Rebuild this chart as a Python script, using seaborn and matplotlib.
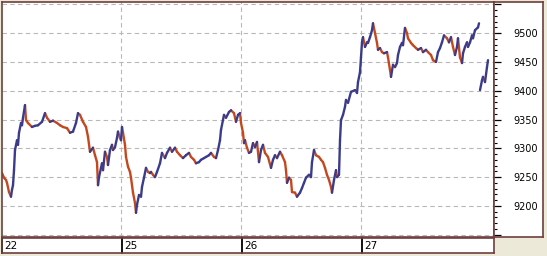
import matplotlib
matplotlib.use("Agg")
import matplotlib.pyplot as plt
import seaborn as sns
import pandas as pd
from matplotlib.ticker import MultipleLocator

# ---- data (bar index: 120 bars per trading day) ----
bars = [1, 3, 5, 6, 8, 10, 11, 12, 13, 14, 16, 17, 18, 20, 21, 22, 24, 25, 27, 31,
        34, 37, 41, 44, 46, 49, 52, 56, 59, 62, 66, 69, 72, 75, 77, 79, 82, 85, 87, 89,
        92, 94, 96, 97, 98, 100, 101, 102, 104, 106, 107, 109, 111, 112, 114, 116, 117, 119,
        120, 121, 122, 124, 125, 127, 129, 130, 132, 134, 135, 136, 138, 140, 141, 143, 145,
        147, 149, 150, 152, 154, 156, 159, 161, 164, 166, 169, 171, 174, 176, 179, 182, 185,
        188, 190, 193, 195, 198, 200, 203, 205, 208, 210, 213, 215, 217, 219, 220, 223, 225,
        228, 230, 233, 235, 237, 239,
        240, 242, 243, 244, 246, 248, 250, 252, 254, 256, 258, 260, 262, 264, 267, 270, 272,
        274, 276, 279, 281, 284, 285, 286, 288, 290, 291, 294, 296, 299, 301, 303, 305, 308,
        310, 311, 313, 315, 318, 320, 322, 324, 326, 328, 330, 331, 333, 335, 336, 338, 339,
        340, 342, 344, 345, 347, 350, 354, 356, 357, 359,
        360, 361, 362, 364, 366, 367, 369, 371, 372, 374, 376, 377, 379, 381, 383, 386, 387,
        389, 390, 392, 394, 396, 397, 399, 401, 402, 404, 406, 407, 410, 412, 415, 417, 420,
        422, 425, 427, 430, 432, 435, 437, 439, 441, 443, 446, 448, 450, 452, 454, 456, 457,
        459, 461, 462, 464, 466, 467, 469, 471, 472, 474, 477, 478]
prices = [9257, 9249, 9245, 9240, 9224, 9216, 9228, 9236, 9262, 9297, 9314, 9306, 9327, 9344,
          9340, 9353, 9375, 9349, 9344, 9337, 9339, 9340, 9346, 9361, 9353, 9346, 9348, 9344,
          9340, 9337, 9335, 9327, 9329, 9344, 9361, 9358, 9346, 9337, 9320, 9294, 9301, 9288,
          9276, 9236, 9250, 9266, 9274, 9262, 9294, 9285, 9271, 9297, 9306, 9297, 9302, 9318,
          9329, 9318,
          9314, 9337, 9327, 9306, 9285, 9268, 9259, 9249, 9223, 9205, 9188, 9202, 9219, 9216,
          9233, 9249, 9266, 9259, 9257, 9259, 9254, 9250, 9259, 9274, 9292, 9283, 9292, 9301,
          9294, 9301, 9294, 9288, 9283, 9288, 9292, 9285, 9280, 9274, 9276, 9280, 9283, 9285,
          9288, 9292, 9285, 9283, 9297, 9314, 9332, 9358, 9353, 9363, 9366, 9361, 9346, 9358,
          9361,
          9344, 9327, 9309, 9314, 9301, 9292, 9294, 9309, 9302, 9311, 9276, 9297, 9306, 9292,
          9285, 9266, 9280, 9288, 9283, 9294, 9288, 9276, 9262, 9240, 9249, 9245, 9224, 9223,
          9216, 9223, 9231, 9240, 9249, 9254, 9250, 9276, 9297, 9288, 9285, 9280, 9276, 9266,
          9254, 9245, 9233, 9223, 9245, 9262, 9250, 9254, 9314, 9349, 9358, 9372, 9384, 9379,
          9398, 9401, 9396, 9415, 9432,
          9458, 9484, 9493, 9476, 9484, 9483, 9493, 9505, 9517, 9500, 9483, 9471, 9474, 9467,
          9465, 9467, 9458, 9436, 9424, 9445, 9441, 9448, 9462, 9476, 9483, 9479, 9509, 9500,
          9491, 9483, 9479, 9474, 9471, 9474, 9467, 9471, 9467, 9462, 9453, 9450, 9467, 9474,
          9484, 9496, 9491, 9484, 9493, 9476, 9462, 9476, 9491, 9458, 9448, 9465, 9476, 9484,
          9476, 9484, 9496, 9491, 9505, 9510, 9517]
bars_next = [479, 481, 482, 484, 486, 487]
prices_next = [9401, 9418, 9424, 9415, 9441, 9453]

day_ticks = [0, 120, 240, 360]
day_labels = ["22", "25", "26", "27"]
y_tick_values = [9150, 9200, 9250, 9300, 9350, 9400, 9450, 9500, 9550]
y_tick_labels = ["", "9200", "9250", "9300", "9350", "9400", "9450", "9500", ""]

# ---- build up/down segments ----
rows = []
seg = 0
for bx, py in ((bars, prices), (bars_next, prices_next)):
    for i in range(len(bx) - 1):
        d = "up" if py[i + 1] >= py[i] else "down"
        rows.append((seg, d, bx[i], py[i]))
        rows.append((seg, d, bx[i + 1], py[i + 1]))
        seg += 1
df = pd.DataFrame(rows, columns=["seg", "dir", "bar", "price"])

sns.set_theme(style="white")
plt.rcParams["font.family"] = ["DejaVu Sans"]

W, H = 547, 256
fig = plt.figure(figsize=(W / 100, H / 100), dpi=100)
fig.patch.set_facecolor("#ECE9D8")
border = "#6E3E3E"

ax = fig.add_axes([2 / W, 19 / H, 492 / W, 235 / H])
ax.set_facecolor("white")
sns.lineplot(data=df, x="bar", y="price", hue="dir", units="seg", estimator=None,
             sort=False, palette={"up": "#3B3B8C", "down": "#C4481F"},
             linewidth=1.7, legend=False, ax=ax)
ax.set_xlim(1, 493)
ax.set_ylim(9146, 9554)
ax.set_xticks(day_ticks[1:])
ax.set_yticks(y_tick_values)
ax.grid(True, linestyle=(0, (4, 3)), color="#B8B8B8", linewidth=0.8)
ax.set_axisbelow(True)
ax.tick_params(length=0, labelbottom=False, labelleft=False)
ax.set_xlabel("")
ax.set_ylabel("")
for s in ax.spines.values():
    s.set_color(border)
    s.set_linewidth(1.2)

# right price scale
ax_r = fig.add_axes([494 / W, 19 / H, 49 / W, 235 / H])
ax_r.set_facecolor("white")
ax_r.set_ylim(9146, 9554)
ax_r.set_xticks([])
ax_r.set_yticks(y_tick_values)
ax_r.set_yticklabels(y_tick_labels)
ax_r.yaxis.set_minor_locator(MultipleLocator(10))
ax_r.tick_params(axis="y", which="both", left=True, right=False, direction="in",
                 labelleft=False, labelright=True, color="black", labelsize=7,
                 labelcolor="black")
ax_r.tick_params(axis="y", which="major", length=5, width=0.9, pad=-21)
ax_r.tick_params(axis="y", which="minor", length=2.5, width=0.8)
for s in ax_r.spines.values():
    s.set_color(border)
    s.set_linewidth(1.2)

# date strip
ax_x = fig.add_axes([2 / W, 3 / H, 492 / W, 15 / H])
ax_x.set_facecolor("white")
ax_x.set_xlim(1, 493)
ax_x.set_ylim(0, 1)
ax_x.set_xticks([])
ax_x.set_yticks([])
for d, lab in zip(day_ticks, day_labels):
    ax_x.axvline(d + 0.5, color="black", linewidth=1.3, clip_on=False)
    ax_x.text(d + 3.5, 0.45, lab, ha="left", va="center", fontsize=7.5, color="black")
for s in ax_x.spines.values():
    s.set_color(border)
    s.set_linewidth(1.2)

fig.savefig("out.png", dpi=100, facecolor=fig.get_facecolor())
